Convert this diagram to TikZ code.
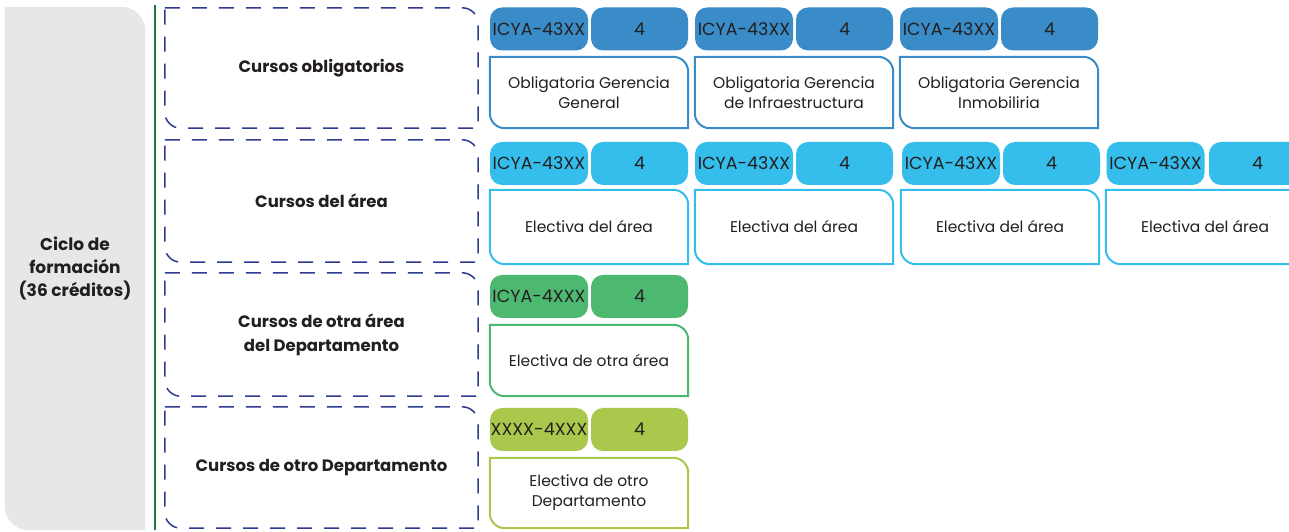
\documentclass[tikz,border=0pt]{standalone}
\usepackage{fontspec}
\setmainfont{Poppins}
\usepackage{tikz}
\usetikzlibrary{positioning}
\usetikzlibrary{calc}
\definecolor{oblblue}{HTML}{3A8CC8}
\definecolor{areablue}{HTML}{35BEEB}
\definecolor{otragreen}{HTML}{4DB86F}
\definecolor{depgreen}{HTML}{A9C84C}
\definecolor{navy}{HTML}{2E3B8F}
\definecolor{ciclogray}{HTML}{E6E7E8}
\definecolor{linegreen}{HTML}{1F7A40}
\definecolor{ink}{HTML}{231F20}
% leaf outline: round only the NE and SW corners of a node
\newcommand{\leafshape}[3]{\path[#1] (#2.north west) -- ([xshift=-#3]#2.north east) arc[start angle=90,end angle=0,radius=#3] -- (#2.south east) -- ([xshift=#3]#2.south west) arc[start angle=270,end angle=180,radius=#3] -- cycle;}
\tikzset{
    pill/.style = {rounded corners=12pt, minimum height=43pt, inner sep=0pt, text=ink, font=\fontsize{17.5}{20}\selectfont},
    code/.style = {pill, minimum width=98pt},
    credit/.style = {pill, minimum width=97pt},
    course/.style = {minimum width=198pt, minimum height=71pt, inner sep=0pt, align=center, text=ink, font=\fontsize{15.5}{20}\selectfont},
    group/.style = {minimum width=313pt, minimum height=120pt, inner sep=0pt, align=center, text=ink, font=\fontsize{16.5}{24}\selectfont\bfseries},
    grouplines/.style = {draw=navy, line width=1.5pt, dash pattern=on 15pt off 12pt},
    courselines/.style = {line width=2pt}}
\begin{document}
\begin{tikzpicture}[x=1pt,y=1pt]
    \clip (0,0) rectangle (1289,532);
    \fill[white] (0,0) rectangle (1289,532);
    % left column
    \node[minimum width=140pt, minimum height=523pt, inner sep=0pt] (ciclo) at (75,263.5) {};
    \leafshape{fill=ciclogray}{ciclo}{24pt}
    \node[align=center, text=ink, font=\fontsize{17}{23}\selectfont\bfseries] (ciclotext) at (ciclo) {Ciclo de\\formación\\(36 créditos)};
    \coordinate (top) at (155,527);
    \coordinate (bottom) at (155,2);
    \draw[linegreen, line width=1.5pt] (top) -- (bottom);
    % groups
    \node[group] (oblig) at (321.5,464) {Cursos obligatorios};
    \node[group, minimum height=122pt] (area) at (321.5,331) {Cursos del área};
    \node[group, minimum height=123pt] (otraarea) at (321.5,197.5) {Cursos de otra área\\del Departamento};
    \node[group, minimum height=121pt] (otrodep) at (321.5,64.5) {Cursos de otro Departamento};
    \leafshape{grouplines}{oblig}{16pt}
    \leafshape{grouplines}{area}{16pt}
    \leafshape{grouplines}{otraarea}{16pt}
    \leafshape{grouplines}{otrodep}{16pt}
    % obligatorios
    \path (539,503) node[code, fill=oblblue] (code11) {ICYA-43XX}
     ++ (100.5,0) node[credit, fill=oblblue] (cred11) {4}
     ++ (104.5,0) node[code, fill=oblblue] (code12) {ICYA-43XX}
     ++ (100.5,0) node[credit, fill=oblblue] (cred12) {4}
     ++ (104.5,0) node[code, fill=oblblue] (code13) {ICYA-43XX}
     ++ (100.5,0) node[credit, fill=oblblue] (cred13) {4};
    \path (589,439.5) node[course] (curso11) {Obligatoria Gerencia\\General}
     ++ (205,0) node[course] (curso12) {Obligatoria Gerencia\\de Infraestructura}
     ++ (205,0) node[course] (curso13) {Obligatoria Gerencia\\Inmobiliria};
    \leafshape{courselines, draw=oblblue}{curso11}{15pt}
    \leafshape{courselines, draw=oblblue}{curso12}{15pt}
    \leafshape{courselines, draw=oblblue}{curso13}{15pt}
    % area
    \path (539,368.5) node[code, fill=areablue] (code21) {ICYA-43XX}
     ++ (100.5,0) node[credit, fill=areablue] (cred21) {4}
     ++ (104.5,0) node[code, fill=areablue] (code22) {ICYA-43XX}
     ++ (100.5,0) node[credit, fill=areablue] (cred22) {4}
     ++ (106.5,0) node[code, fill=areablue] (code23) {ICYA-43XX}
     ++ (100.5,0) node[credit, fill=areablue] (cred23) {4}
     ++ (104,0) node[code, fill=areablue] (code24) {ICYA-43XX}
     ++ (102,0) node[credit, fill=areablue] (cred24) {4};
    \path (589,305) node[course, minimum height=74pt] (curso21) {Electiva del área}
     ++ (205,0) node[course, minimum height=74pt] (curso22) {Electiva del área}
     ++ (206,0) node[course, minimum height=74pt] (curso23) {Electiva del área}
     ++ (205,0) node[course, minimum height=74pt] (curso24) {Electiva del área};
    \leafshape{courselines, draw=areablue}{curso21}{15pt}
    \leafshape{courselines, draw=areablue}{curso22}{15pt}
    \leafshape{courselines, draw=areablue}{curso23}{15pt}
    \leafshape{courselines, draw=areablue}{curso24}{15pt}
    % otra area
    \path (539,235.5) node[code, fill=otragreen] (code31) {ICYA-4XXX}
     ++ (100.5,0) node[credit, fill=otragreen] (cred31) {4};
    \node[course] (curso31) at (589,171.5) {Electiva de otra área};
    \leafshape{courselines, draw=otragreen}{curso31}{15pt}
    % otro departamento
    \path (539,102.5) node[code, fill=depgreen] (code41) {XXXX-4XXX}
     ++ (100.5,0) node[credit, fill=depgreen] (cred41) {4};
    \node[course, minimum height=70pt] (curso41) at (589,39) {Electiva de otro\\Departamento};
    \leafshape{courselines, draw=depgreen}{curso41}{15pt}
\end{tikzpicture}
\end{document}
